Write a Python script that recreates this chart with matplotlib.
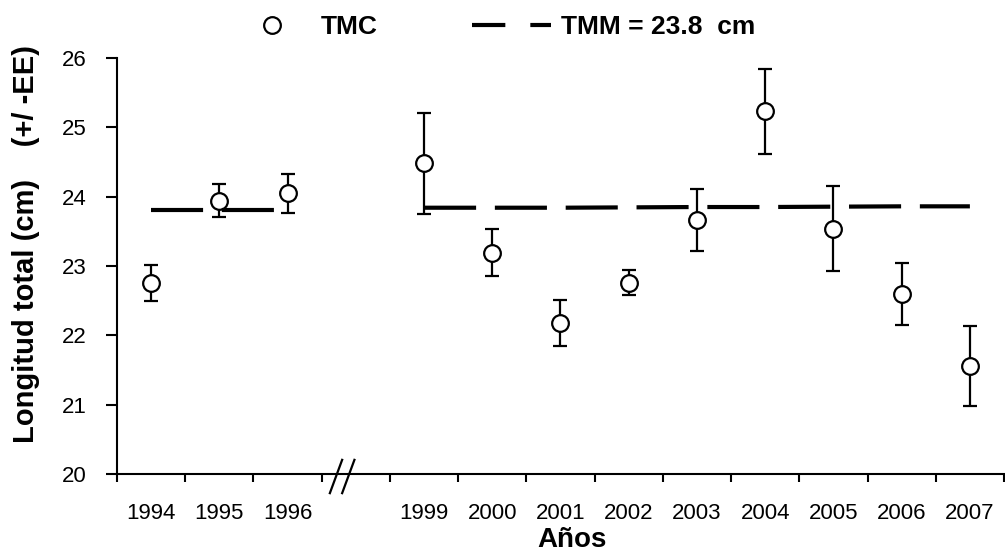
import matplotlib
matplotlib.use("Agg")
import matplotlib.pyplot as plt
import matplotlib.transforms as mtransforms
from matplotlib.lines import Line2D
import numpy as np

plt.rcParams['font.family'] = ['Liberation Sans', 'DejaVu Sans']

# category slots on the x axis, '' is the gap (1997-1998 missing)
slots = ["1994", "1995", "1996", "", "1999", "2000", "2001", "2002",
         "2003", "2004", "2005", "2006", "2007"]
years = ["1994", "1995", "1996", "1999", "2000", "2001", "2002",
         "2003", "2004", "2005", "2006", "2007"]
tmc = [22.76, 23.94, 24.05, 24.48, 23.19, 22.18, 22.76, 23.66, 25.23, 23.54, 22.60, 21.56]
ee = [0.26, 0.24, 0.28, 0.73, 0.34, 0.33, 0.18, 0.45, 0.61, 0.61, 0.45, 0.58]
tmm = [23.81, 23.81, 23.81, 23.84, 23.84, 23.84, 23.845, 23.85, 23.85, 23.855, 23.86, 23.86]

x = np.array([slots.index(y) for y in years])
gap = slots.index("")

fig = plt.figure(figsize=(10.05, 5.57), dpi=100)
ax = fig.add_axes([0.1164, 0.149, 0.8826, 0.747])

ax.errorbar(x, tmc, yerr=ee, fmt='o', color='black', mfc='white', mec='black',
            ms=12, mew=1.6, elinewidth=1.6, capsize=5, capthick=1.6, zorder=2)

# TMM dashed line, broken at the gap
first = x < gap
for m in (first, ~first):
    ax.plot(x[m], np.array(tmm)[m], color='black', lw=3, dashes=(12.5, 4.5),
            solid_capstyle='butt', zorder=3)

ax.set_xlim(-0.5, len(slots) - 0.5)
ax.set_ylim(20, 26)
ax.set_yticks(range(20, 27))

ax.set_xticks(np.arange(-0.5, len(slots)))
ax.set_xticklabels([])
ax.set_xticks(range(len(slots)), minor=True)
ax.set_xticklabels(slots, minor=True)
ax.tick_params(axis='x', which='major', direction='out', length=6, width=1.5)
ax.tick_params(axis='x', which='minor', length=0, labelsize=16, pad=21)
ax.tick_params(axis='y', direction='out', length=8, width=1.5, labelsize=16, pad=14)

for s in ['top', 'right']:
    ax.spines[s].set_visible(False)
for s in ['left', 'bottom']:
    ax.spines[s].set_linewidth(1.5)

# axis break marks
tr = mtransforms.blended_transform_factory(ax.transData, ax.transAxes)
for dx in (-0.38, -0.2):
    ax.plot([gap + dx, gap + dx + 0.18], [-0.046, 0.034], color='black', lw=1.6,
            transform=tr, clip_on=False)

ax.set_xlabel("Años", fontsize=20, fontweight='bold')
ax.xaxis.set_label_coords(0.513, -0.128)
ax.set_ylabel("Longitud total (cm)    (+/ -EE)", fontsize=21, fontweight='bold')
ax.yaxis.set_label_coords(-0.087, 0.553)

handles = [Line2D([], [], ls='none', marker='o', ms=12, mfc='white', mec='black', mew=1.6),
           Line2D([], [], color='black', lw=3, dashes=(8, 6))]
fig.legend(handles, ["TMC", "TMM = 23.8  cm"], loc='center', bbox_to_anchor=(0.491, 0.951),
           ncol=2, frameon=False, prop={'size': 19, 'weight': 'bold'},
           handlelength=3, handletextpad=0.35, columnspacing=3.6)

fig.savefig("out.png", dpi=100)
